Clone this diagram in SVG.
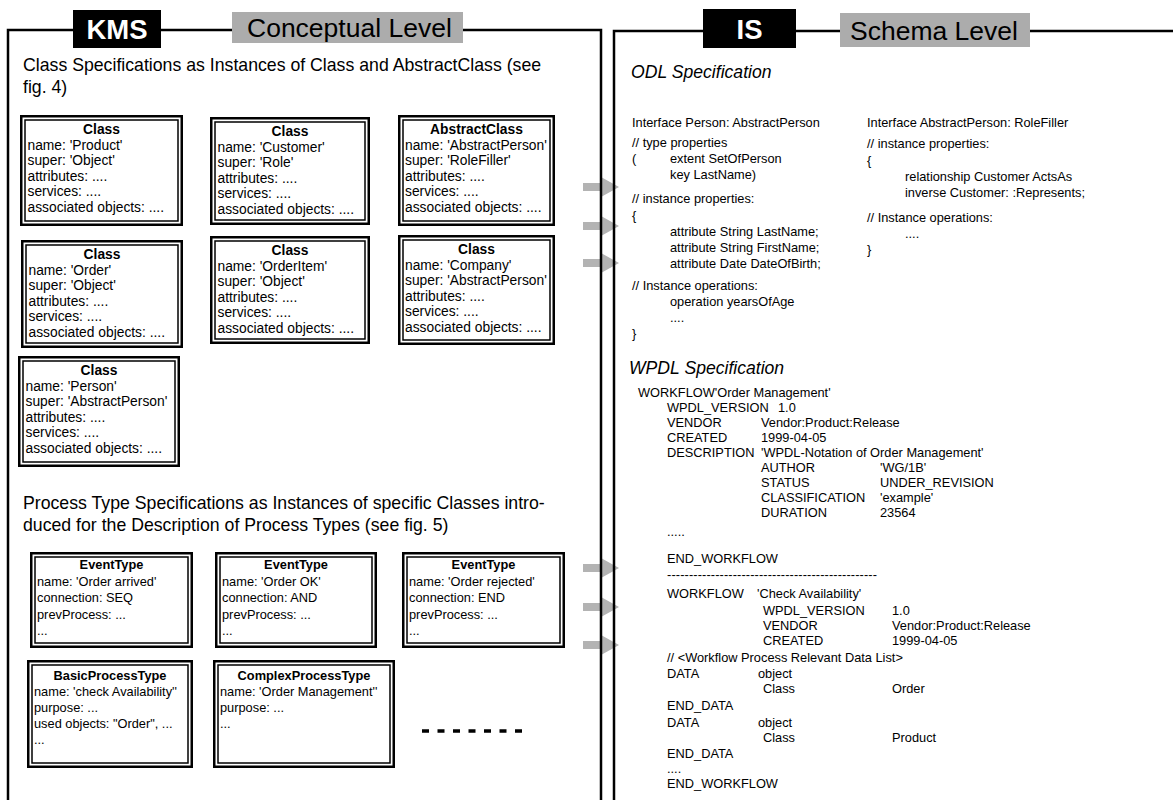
<svg xmlns="http://www.w3.org/2000/svg" width="1173" height="800" viewBox="0 0 1173 800">
  <style>
    text { font-family: "Liberation Sans", Arial, Helvetica, sans-serif; fill: #000; }
    .frame { fill: none; stroke: #000; stroke-width: 2.5; }
    .tagbox { fill: #000; }
    .lvlbox { fill: #acacac; }
    .tag { font-size: 27.5px; font-weight: bold; fill: #fff; text-anchor: middle; }
    .lvl { font-size: 26.5px; }
    .head { font-size: 17.7px; }
    .spec { font-size: 17.6px; font-style: italic; }
    .o { fill: #fff; stroke: #000; stroke-width: 2.5; }
    .i { fill: none; stroke: #000; stroke-width: 1.5; }
    .bt { font-size: 13.8px; }
    .pt { font-size: 12.8px; }
    .t { font-weight: bold; text-anchor: middle; }
    .code { font-size: 12.8px; }
    .arr { fill: #b3b3b3; }
    .more { fill: none; stroke: #000; stroke-width: 3.5; stroke-dasharray: 7 8.5; }
  </style>

  <!-- transformation arrows (drawn first so the panel borders sit on top) -->
  <g id="connectors">
    <polygon class="arr" points="583,183 601,183 601,177 619,187 601,197 601,191 583,191"/>
    <polygon class="arr" points="583,222 601,222 601,216 619,226 601,236 601,230 583,230"/>
    <polygon class="arr" points="583,259 601,259 601,253 619,263 601,273 601,267 583,267"/>
    <polygon class="arr" points="583,564 601,564 601,558 619,568 601,578 601,572 583,572"/>
    <polygon class="arr" points="583,603 601,603 601,597 619,607 601,617 601,611 583,611"/>
    <polygon class="arr" points="583,641 601,641 601,635 619,645 601,655 601,649 583,649"/>
  </g>

  <!-- KMS panel -->
  <g id="panel-kms">
    <path class="frame" d="M8,800 V30 H601 V800"/>
    <rect class="tagbox" x="73" y="10" width="88" height="38"/>
    <text class="tag" x="117" y="39">KMS</text>
    <rect class="lvlbox" x="232" y="12" width="231" height="31"/>
    <text class="lvl" x="247" y="37">Conceptual Level</text>
    <text class="head" x="23" y="71">Class Specifications as Instances of Class and AbstractClass (see</text>
    <text class="head" x="23" y="93">fig. 4)</text>
    <text class="head" x="23" y="509">Process Type Specifications as Instances of specific Classes intro-</text>
    <text class="head" x="23" y="531">duced for the Description of Process Types (see fig. 5)</text>
  </g>

  <!-- IS panel -->
  <g id="panel-is">
    <path class="frame" d="M614,800 V31 H1173"/>
    <rect class="tagbox" x="703" y="9" width="93" height="39"/>
    <text class="tag" x="749.5" y="38.5">IS</text>
    <rect class="lvlbox" x="840" y="13" width="190" height="34"/>
    <text class="lvl" x="850" y="39.5">Schema Level</text>
    <text class="spec" x="631" y="78">ODL Specification</text>
    <text class="spec" x="629" y="374">WPDL Specification</text>
  </g>

  <!-- class instances -->
  <g id="class-product" transform="translate(20,115)">
    <rect class="o" x="1.25" y="1.25" width="160.5" height="108.5"/>
    <rect class="i" x="5" y="5" width="153" height="101"/>
    <text class="bt"><tspan class="t" x="81.5" y="19">Class</tspan><tspan x="7.5" y="34.5">name: 'Product'</tspan><tspan x="7.5" y="50">super: 'Object'</tspan><tspan x="7.5" y="65.5">attributes: ....</tspan><tspan x="7.5" y="81">services: ....</tspan><tspan x="7.5" y="96.5">associated objects: ....</tspan></text>
  </g>
  <g id="class-customer" transform="translate(210,117)">
    <rect class="o" x="1.25" y="1.25" width="157.5" height="105.5"/>
    <rect class="i" x="5" y="5" width="150" height="98"/>
    <text class="bt"><tspan class="t" x="80" y="19">Class</tspan><tspan x="7.5" y="34.5">name: 'Customer'</tspan><tspan x="7.5" y="50">super: 'Role'</tspan><tspan x="7.5" y="65.5">attributes: ....</tspan><tspan x="7.5" y="81">services: ....</tspan><tspan x="7.5" y="96.5">associated objects: ....</tspan></text>
  </g>
  <g id="class-abstractperson" transform="translate(398,115)">
    <rect class="o" x="1.25" y="1.25" width="154.5" height="108.5"/>
    <rect class="i" x="5" y="5" width="147" height="101"/>
    <text class="bt"><tspan class="t" x="78.5" y="19">AbstractClass</tspan><tspan x="7" y="34.5">name: 'AbstractPerson'</tspan><tspan x="7" y="50">super: 'RoleFiller'</tspan><tspan x="7" y="65.5">attributes: ....</tspan><tspan x="7" y="81">services: ....</tspan><tspan x="7" y="96.5">associated objects: ....</tspan></text>
  </g>
  <g id="class-order" transform="translate(21,240)">
    <rect class="o" x="1.25" y="1.25" width="159.5" height="105.5"/>
    <rect class="i" x="5" y="5" width="152" height="98"/>
    <text class="bt"><tspan class="t" x="81" y="19">Class</tspan><tspan x="7.5" y="34.5">name: 'Order'</tspan><tspan x="7.5" y="50">super: 'Object'</tspan><tspan x="7.5" y="65.5">attributes: ....</tspan><tspan x="7.5" y="81">services: ....</tspan><tspan x="7.5" y="96.5">associated objects: ....</tspan></text>
  </g>
  <g id="class-orderitem" transform="translate(210,236)">
    <rect class="o" x="1.25" y="1.25" width="157.5" height="105.5"/>
    <rect class="i" x="5" y="5" width="150" height="98"/>
    <text class="bt"><tspan class="t" x="80" y="19">Class</tspan><tspan x="7.5" y="34.5">name: 'OrderItem'</tspan><tspan x="7.5" y="50">super: 'Object'</tspan><tspan x="7.5" y="65.5">attributes: ....</tspan><tspan x="7.5" y="81">services: ....</tspan><tspan x="7.5" y="96.5">associated objects: ....</tspan></text>
  </g>
  <g id="class-company" transform="translate(398,235)">
    <rect class="o" x="1.25" y="1.25" width="154.5" height="107.5"/>
    <rect class="i" x="5" y="5" width="147" height="100"/>
    <text class="bt"><tspan class="t" x="78.5" y="19">Class</tspan><tspan x="7" y="34.5">name: 'Company'</tspan><tspan x="7" y="50">super: 'AbstractPerson'</tspan><tspan x="7" y="65.5">attributes: ....</tspan><tspan x="7" y="81">services: ....</tspan><tspan x="7" y="96.5">associated objects: ....</tspan></text>
  </g>
  <g id="class-person" transform="translate(18,356)">
    <rect class="o" x="1.25" y="1.25" width="159.5" height="108.5"/>
    <rect class="i" x="5" y="5" width="152" height="101"/>
    <text class="bt"><tspan class="t" x="81" y="19">Class</tspan><tspan x="7.5" y="34.5">name: 'Person'</tspan><tspan x="7.5" y="50">super: 'AbstractPerson'</tspan><tspan x="7.5" y="65.5">attributes: ....</tspan><tspan x="7.5" y="81">services: ....</tspan><tspan x="7.5" y="96.5">associated objects: ....</tspan></text>
  </g>

  <!-- process type instances -->
  <g id="event-order-arrived" transform="translate(30,552)">
    <rect class="o" x="1.25" y="1.25" width="160.5" height="93.5"/>
    <rect class="i" x="5" y="5" width="153" height="86"/>
    <text class="pt"><tspan class="t" x="81.5" y="17">EventType</tspan><tspan x="7" y="33.5">name: 'Order arrived'</tspan><tspan x="7" y="50">connection: SEQ</tspan><tspan x="7" y="66.5">prevProcess: ...</tspan><tspan x="7" y="83">...</tspan></text>
  </g>
  <g id="event-order-ok" transform="translate(215,552)">
    <rect class="o" x="1.25" y="1.25" width="159.5" height="93.5"/>
    <rect class="i" x="5" y="5" width="152" height="86"/>
    <text class="pt"><tspan class="t" x="81" y="17">EventType</tspan><tspan x="7" y="33.5">name: 'Order OK'</tspan><tspan x="7" y="50">connection: AND</tspan><tspan x="7" y="66.5">prevProcess: ...</tspan><tspan x="7" y="83">...</tspan></text>
  </g>
  <g id="event-order-rejected" transform="translate(402,552)">
    <rect class="o" x="1.25" y="1.25" width="160.5" height="93.5"/>
    <rect class="i" x="5" y="5" width="153" height="86"/>
    <text class="pt"><tspan class="t" x="81.5" y="17">EventType</tspan><tspan x="7" y="33.5">name: 'Order rejected'</tspan><tspan x="7" y="50">connection: END</tspan><tspan x="7" y="66.5">prevProcess: ...</tspan><tspan x="7" y="83">...</tspan></text>
  </g>
  <g id="process-check-availability" transform="translate(27,660)">
    <rect class="o" x="1.25" y="1.25" width="163.5" height="105.5"/>
    <rect class="i" x="5" y="5" width="156" height="98"/>
    <text class="pt"><tspan class="t" x="83" y="20">BasicProcessType</tspan><tspan x="7" y="36">name: 'check Availability''</tspan><tspan x="7" y="52">purpose: ...</tspan><tspan x="7" y="68">used objects: "Order", ...</tspan><tspan x="7" y="84">...</tspan></text>
  </g>
  <g id="process-order-management" transform="translate(213,660)">
    <rect class="o" x="1.25" y="1.25" width="179.5" height="105.5"/>
    <rect class="i" x="5" y="5" width="172" height="98"/>
    <text class="pt"><tspan class="t" x="91" y="20">ComplexProcessType</tspan><tspan x="7" y="36">name: 'Order Management''</tspan><tspan x="7" y="52">purpose: ...</tspan><tspan x="7" y="68">...</tspan></text>
  </g>
  <line id="more-types" class="more" x1="422" y1="731" x2="522" y2="731"/>

  <!-- ODL schema -->
  <g id="odl-person" class="code">
    <text x="632" y="126.5">Interface Person: AbstractPerson</text>
    <text x="632" y="146.5">// type properties</text>
    <text x="632" y="162.5">(</text>
    <text x="670" y="162.5">extent SetOfPerson</text>
    <text x="670" y="178.5">key LastName)</text>
    <text x="632" y="202.5">// instance properties:</text>
    <text x="632" y="219.5">{</text>
    <text x="670" y="235.5">attribute String LastName;</text>
    <text x="670" y="251.5">attribute String FirstName;</text>
    <text x="670" y="267.5">attribute Date DateOfBirth;</text>
    <text x="632" y="289.5">// Instance operations:</text>
    <text x="670" y="305.5">operation yearsOfAge</text>
    <text x="670" y="321.5">....</text>
    <text x="632" y="337.5">}</text>
  </g>
  <g id="odl-abstractperson" class="code">
    <text x="867" y="126.5">Interface AbstractPerson: RoleFiller</text>
    <text x="867" y="147.5">// instance properties:</text>
    <text x="867" y="164.5">{</text>
    <text x="905" y="180.5">relationship Customer ActsAs</text>
    <text x="905" y="196.5">inverse Customer: :Represents;</text>
    <text x="867" y="221.5">// Instance operations:</text>
    <text x="905" y="237.5">....</text>
    <text x="867" y="253.5">}</text>
  </g>

  <!-- WPDL definitions -->
  <g id="wpdl-order-management" class="code">
    <text x="638" y="396.5">WORKFLOW'Order Management'</text>
    <text x="667" y="411.5">WPDL_VERSION</text><text x="778" y="411.5">1.0</text>
    <text x="667" y="426.5">VENDOR</text><text x="761" y="426.5">Vendor:Product:Release</text>
    <text x="667" y="441.5">CREATED</text><text x="761" y="441.5">1999-04-05</text>
    <text x="667" y="456.5">DESCRIPTION</text><text x="761" y="456.5">'WPDL-Notation of Order Management'</text>
    <text x="761" y="471.5">AUTHOR</text><text x="880" y="471.5">'WG/1B'</text>
    <text x="761" y="486.5">STATUS</text><text x="880" y="486.5">UNDER_REVISION</text>
    <text x="761" y="501.5">CLASSIFICATION</text><text x="880" y="501.5">'example'</text>
    <text x="761" y="516.5">DURATION</text><text x="880" y="516.5">23564</text>
    <text x="667" y="536">.....</text>
    <text x="667" y="562.5">END_WORKFLOW</text>
    <text x="667" y="579" textLength="210" lengthAdjust="spacing">------------------------------------------------</text>
  </g>
  <g id="wpdl-check-availability" class="code">
    <text x="667" y="597.5">WORKFLOW</text><text x="757" y="597.5">'Check Availability'</text>
    <text x="763" y="614.5">WPDL_VERSION</text><text x="892" y="614.5">1.0</text>
    <text x="763" y="629.5">VENDOR</text><text x="892" y="629.5">Vendor:Product:Release</text>
    <text x="763" y="644.5">CREATED</text><text x="892" y="644.5">1999-04-05</text>
    <text x="667" y="661.5">// &lt;Workflow Process Relevant Data List&gt;</text>
    <text x="667" y="677.5">DATA</text><text x="758" y="677.5">object</text>
    <text x="763" y="692.5">Class</text><text x="892" y="692.5">Order</text>
    <text x="667" y="709.5">END_DATA</text>
    <text x="667" y="726.5">DATA</text><text x="758" y="726.5">object</text>
    <text x="763" y="741.5">Class</text><text x="892" y="741.5">Product</text>
    <text x="667" y="757.5">END_DATA</text>
    <text x="667" y="772.5">....</text>
    <text x="667" y="788">END_WORKFLOW</text>
  </g>
</svg>
